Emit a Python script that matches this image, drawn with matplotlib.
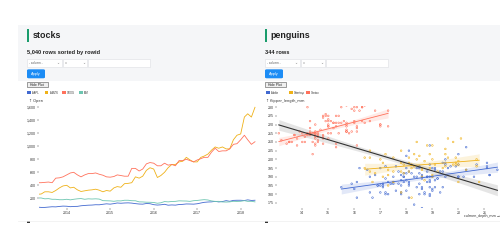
import numpy as np
import pandas as pd
import matplotlib
matplotlib.use("Agg")
import matplotlib.pyplot as plt
from matplotlib.patches import Rectangle, FancyBboxPatch

# ---------------- data ----------------
stock_symbols = ["AAPL", "AMZN", "GOOG", "IBM"]
stock_months = pd.date_range("2013-05-01", "2018-05-01", freq="MS")
aapl = [64, 60, 60, 65, 70, 68, 75, 80,
        78, 71, 75, 76, 85, 90, 94, 96, 101, 100, 108, 115,
        110, 118, 128, 124, 128, 130, 126, 118, 112, 110, 120, 117,
        102, 96, 100, 108, 94, 98, 95, 104, 107, 113, 112, 110,
        116, 128, 138, 143, 145, 153, 144, 150, 164, 154, 168, 170,
        170, 166, 176, 167, 170]
amzn = [262, 266, 300, 300, 290, 320, 360, 390,
        400, 360, 370, 330, 305, 315, 325, 330, 340, 325, 300, 320,
        310, 360, 380, 370, 425, 430, 440, 530, 510, 540, 630, 670,
        650, 520, 550, 600, 670, 720, 720, 760, 770, 830, 790, 760,
        760, 830, 850, 880, 940, 990, 970, 990, 960, 960, 1100, 1170,
        1190, 1450, 1500, 1450, 1600]
goog = [440, 440, 445, 450, 440, 510, 515, 530,
        560, 590, 600, 560, 530, 560, 580, 580, 590, 570, 555, 530,
        525, 535, 560, 550, 540, 540, 660, 660, 620, 650, 730, 750,
        740, 700, 700, 740, 710, 720, 700, 780, 780, 800, 780, 760,
        790, 810, 830, 830, 910, 970, 920, 930, 930, 960, 1030, 1040,
        1100, 1170, 1100, 1030, 1070]
ibm = [205, 205, 192, 195, 185, 185, 178, 178,
       185, 176, 185, 192, 196, 185, 192, 189, 192, 188, 164, 162,
       160, 154, 161, 160, 170, 170, 163, 162, 145, 144, 140, 139,
       136, 124, 131, 150, 145, 151, 153, 161, 159, 158, 153, 163,
       167, 174, 179, 174, 160, 152, 153, 144, 142, 145, 154, 152,
       154, 164, 153, 154, 145]
stock_year_ticks = [2014, 2015, 2016, 2017, 2018]
stock_value_ticks = [200, 400, 600, 800, 1000, 1200, 1400, 1600]

species = ["Adelie", "Chinstrap", "Gentoo"]
adelie = [(18.7,181),(17.4,186),(18.0,195),(19.3,193),(20.6,190),(17.8,181),(19.6,195),(18.1,193),(20.2,190),(17.1,186),
          (17.3,180),(17.6,182),(21.2,191),(21.1,198),(17.8,185),(19.0,195),(20.7,197),(18.4,184),(21.5,194),(18.3,174),
          (18.7,180),(19.2,189),(18.1,185),(17.2,180),(18.9,187),(18.6,183),(17.9,187),(18.6,172),(18.9,180),(16.7,178),
          (18.1,178),(17.8,188),(18.9,184),(17.0,195),(21.1,196),(20.0,190),(18.5,180),(19.3,181),(19.1,184),(18.0,182),
          (18.4,195),(18.5,186),(19.7,196),(16.9,185),(18.8,190),(19.0,182),(18.9,179),(17.9,190),(21.2,191),(17.7,186),
          (18.9,188),(17.9,190),(19.5,200),(18.1,187),(18.6,191),(17.5,186),(18.8,193),(16.6,181),(19.1,194),(16.9,185),
          (21.1,195),(17.0,185),(18.2,192),(17.1,184),(18.0,192),(16.2,195),(19.1,188),(16.6,190),(19.4,198),(19.0,190),
          (18.4,190),(17.2,196),(18.9,197),(17.5,190),(18.5,195),(16.8,191),(19.4,184),(16.1,187),(19.1,195),(17.2,189),
          (17.6,196),(18.8,187),(19.4,193),(17.8,191),(20.3,194),(19.5,190),(18.6,189),(19.2,189),(18.8,190),(18.0,202),
          (18.1,205),(17.1,185),(18.1,186),(17.3,187),(18.9,208),(18.6,190),(18.5,196),(16.1,178),(18.5,192),(17.9,192),
          (20.0,203),(16.0,183),(20.0,190),(18.6,184),(18.9,190),(17.2,181),(20.0,197),(17.0,181),(19.0,183),(16.5,194),
          (20.3,207),(17.7,193),(19.5,198),(15.5,184),(19.5,197),(18.0,188),(15.9,186),(19.9,196),(17.8,180),(18.3,190)]
chinstrap = [(17.9,192),(19.5,196),(19.2,193),(18.7,188),(19.8,197),(17.8,198),(18.2,178),(18.2,197),(18.9,195),(19.9,198),
             (17.8,193),(20.3,194),(17.3,185),(18.1,201),(17.1,190),(19.6,201),(20.0,197),(17.8,181),(18.6,190),(18.2,195),
             (17.3,191),(17.5,187),(16.6,193),(19.4,195),(17.9,197),(19.0,200),(18.4,200),(19.0,191),(17.8,205),(20.0,187),
             (16.6,201),(20.8,187),(16.7,187),(18.8,208),(18.6,195),(16.8,192),(18.3,203),(20.7,200),(16.6,205),(19.9,197),
             (19.5,203),(17.5,201),(17.5,187),(19.0,190),(18.6,194),(18.3,196),(17.0,200),(17.3,194),(18.4,210),(18.1,198),
             (19.5,206),(20.0,199),(17.5,193),(18.1,193),(18.7,199),(16.4,201),(19.1,197),(20.1,212),(17.2,203),(20.7,196),
             (16.4,195),(19.0,208),(19.8,210),(19.6,212),(18.5,202),(17.1,198),(19.9,201),(18.9,203)]
gentoo = [(13.2,211),(16.3,230),(14.1,210),(15.2,218),(14.5,215),(13.5,210),(14.6,211),(15.3,219),(13.4,209),(15.4,215),
          (13.7,214),(16.1,216),(13.7,214),(14.6,213),(14.6,210),(15.7,217),(13.5,210),(15.2,221),(14.5,209),(15.1,222),
          (14.3,218),(14.5,215),(14.5,213),(15.8,215),(13.1,215),(15.1,215),(14.3,215),(15.0,220),(14.3,222),(15.3,209),
          (15.3,207),(14.2,230),(14.5,220),(17.0,220),(14.8,213),(16.1,219),(14.5,208),(16.1,208),(13.8,208),(14.9,225),
          (14.4,210),(15.9,216),(15.0,212),(14.8,225),(14.4,215),(16.3,230),(14.1,213),(17.3,228),(15.4,225),(14.0,210),
          (15.3,221),(14.8,214),(15.0,219),(16.0,222),(14.0,215),(17.0,220),(14.5,212),(15.0,225),(14.2,215),(15.7,216),
          (13.8,212),(15.2,221),(15.0,215),(14.2,214),(17.0,219),(14.6,214),(15.7,216),(14.3,216),(16.1,218),(13.6,210),
          (16.0,230),(14.9,222),(15.7,220),(13.9,216),(15.5,230),(16.0,228),(14.7,217),(15.7,219),(14.5,214),(15.3,225),
          (14.8,209),(16.4,231),(14.6,215),(16.6,222),(14.5,216),(15.5,221),(15.9,229),(16.4,221),(15.0,222),(15.7,231),
          (16.8,228),(16.0,221),(14.4,203),(15.6,222),(15.0,219),(16.3,222),(14.9,226),(15.7,216),(16.2,228),(14.8,224),
          (15.0,223),(15.4,221),(14.3,214),(15.7,221),(14.8,212),(16.1,230),(17.3,219)]
depth_ticks = [14, 15, 16, 17, 18, 19, 20, 21]
flipper_ticks = [175, 180, 185, 190, 195, 200, 205, 210, 215, 220, 225, 230]

# ---------------- style ----------------
OBS = ["#4269d0", "#efb118", "#ff725c", "#6cc5b0"]
W, H = 500, 250
UI = ["Liberation Sans", "DejaVu Sans"]
plt.rcParams["font.family"] = UI

fig = plt.figure(figsize=(5, 2.5), dpi=100)
fig.patch.set_facecolor("white")


def fx(x):
    return x / W


def fy(y):
    return 1 - y / H


def rect(x0, y0, x1, y1, **kw):
    fig.patches.append(Rectangle((fx(x0), fy(y1)), (x1 - x0) / W, (y1 - y0) / H,
                                 transform=fig.transFigure, **kw))


def text(x, y, s, **kw):
    fig.text(fx(x), fy(y), s, **kw)


# header background band
rect(18, 25, 500, 81, facecolor="#f5f6f8", edgecolor="none", zorder=0)


def header(x0, title, sub):
    rect(x0, 29.5, x0 + 2.2, 41.5, facecolor="#1a9c6c", edgecolor="none")
    text(x0 + 5.5, 35.7, title, fontsize=6.4, fontweight="bold", color="#222222",
         va="center", ha="left")
    text(x0, 52.5, sub, fontsize=4.1, fontweight="bold", color="#222222",
         va="center", ha="left")
    # dropdowns
    rect(x0, 59.5, x0 + 34.5, 66.5, facecolor="white", edgecolor="#dcdfe3", lw=0.4)
    text(x0 + 2, 63, "- column -", fontsize=2.2, color="#555555", va="center")
    text(x0 + 31, 63, "⌄", fontsize=2.6, color="#888888", va="center", ha="center")
    rect(x0 + 36, 59.5, x0 + 60, 66.5, facecolor="white", edgecolor="#dcdfe3", lw=0.4)
    text(x0 + 38, 63, "=", fontsize=2.4, color="#555555", va="center")
    text(x0 + 56.5, 63, "⌄", fontsize=2.6, color="#888888", va="center", ha="center")
    rect(x0 + 61, 59.5, x0 + 123, 66.5, facecolor="white", edgecolor="#dcdfe3", lw=0.4)
    # apply button
    fig.patches.append(FancyBboxPatch((fx(x0), fy(78.3)), 18 / W, 9 / H,
                                      boxstyle="round,pad=0,rounding_size=0.004",
                                      transform=fig.transFigure,
                                      facecolor="#1c8cf5", edgecolor="none"))
    text(x0 + 9, 73.8, "Apply", fontsize=2.8, color="white", va="center", ha="center")
    # hide plot button
    rect(x0, 81.8, x0 + 20.5, 87, facecolor="#efefef", edgecolor="#555555", lw=0.4)
    text(x0 + 10.2, 84.5, "Hide Plot", fontsize=2.4, color="#222222", va="center", ha="center")


header(27, "stocks", "5,040 rows sorted by rowid")
header(265, "penguins", "344 rows")


def legend(items, xs):
    for (label, col), x in zip(items, xs):
        rect(x, 90.6, x + 3.8, 94.4, facecolor=col, edgecolor="none")
        text(x + 5.0, 92.6, label, fontsize=1.9, color="#333333", va="center")


legend(zip(stock_symbols, OBS), [27.3, 44.5, 61.8, 79.2])
legend(zip(species, OBS[:3]), [265.7, 289, 306])

# bottom markers / separators
for x0 in (27, 265):
    rect(x0, 221, x0 + 3, 223, facecolor="#333333", edgecolor="none")
fig.lines.append(plt.Line2D([fx(18), fx(500)], [fy(220.5), fy(220.5)],
                            transform=fig.transFigure, color="#eeeeee", lw=0.5))

TICK_FS = 2.6


def style_ax(ax):
    for s in ax.spines.values():
        s.set_visible(False)
    ax.tick_params(axis="both", length=1.6, width=0.35, colors="#555555",
                   labelsize=TICK_FS, pad=0.8, labelcolor="#333333")
    ax.set_facecolor("none")


# ---------------- stocks axes ----------------
def to_year(d):
    return d.year + (d.dayofyear - 1) / 365.25


t = np.array([to_year(d) for d in stock_months])
ax1 = fig.add_axes([fx(39), fy(208), (256 - 39) / W, (208 - 103) / H])
for vals, col in zip([aapl, amzn, goog, ibm], OBS):
    ax1.plot(t, vals, color=col, lw=0.6, solid_joinstyle="round")
ax1.set_xlim(2013.363, 2018.352)
ax1.set_ylim(50.8, 1666)
ax1.set_xticks(stock_year_ticks)
ax1.set_xticklabels([str(y) for y in stock_year_ticks])
ax1.set_yticks(stock_value_ticks)
ax1.set_yticklabels([f"{v:,}" for v in stock_value_ticks])
style_ax(ax1)
text(29, 101, "↑ Open", fontsize=2.6, color="#333333", va="center", family=["DejaVu Sans"])

# ---------------- penguins axes ----------------
ax2 = fig.add_axes([fx(277), fy(208), (500 - 277) / W, (208 - 105.6) / H])
ax2.set_xlim(13.03, 21.6)
ax2.set_ylim(172.05, 230.9)


def regline(ax, x, y, col, bandcol, lw):
    x = np.asarray(x, float)
    y = np.asarray(y, float)
    b, a = np.polyfit(x, y, 1)
    xs = np.linspace(x.min(), x.max(), 60)
    ys = a + b * xs
    n = len(x)
    resid = y - (a + b * x)
    s = np.sqrt(np.sum(resid ** 2) / (n - 2))
    se = s * np.sqrt(1 / n + (xs - x.mean()) ** 2 / np.sum((x - x.mean()) ** 2))
    ax.fill_between(xs, ys - 1.97 * se, ys + 1.97 * se, color=bandcol, alpha=0.15, lw=0, zorder=1)
    ax.plot(xs, ys, color=col, lw=lw, zorder=3)


all_x, all_y = [], []
for data, col in zip([adelie, chinstrap, gentoo], OBS[:3]):
    d = np.array(data, float)
    ax2.scatter(d[:, 0], d[:, 1], s=1.4, facecolors="none", edgecolors=col,
                linewidths=0.4, zorder=2)
    regline(ax2, d[:, 0], d[:, 1], col, col, 0.6)
    all_x.extend(d[:, 0])
    all_y.extend(d[:, 1])
regline(ax2, all_x, all_y, "#333333", "#555555", 0.8)

ax2.set_xticks(depth_ticks)
ax2.set_yticks(flipper_ticks)
style_ax(ax2)
text(266.5, 101, "↑ flipper_length_mm", fontsize=2.6, color="#333333", va="center",
     family=["DejaVu Sans"])
text(499.5, 216.5, "culmen_depth_mm →", fontsize=2.4, color="#333333", va="center",
     ha="right", family=["DejaVu Sans"])

fig.savefig("out.png", dpi=100, facecolor="white")
